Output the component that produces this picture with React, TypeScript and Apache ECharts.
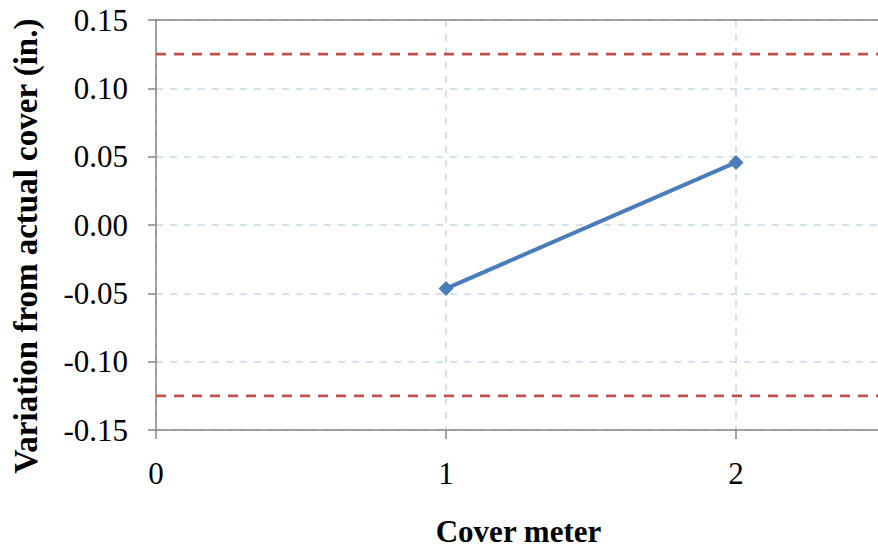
import React, { useEffect, useRef } from "react";
import * as echarts from "echarts";

const meterX = [1, 2];
const variation = [-0.0465, 0.0458];
const toleranceUpper = 0.125;
const toleranceLower = -0.125;
const xTicks = [0, 1, 2];
const yTicks = [-0.15, -0.1, -0.05, 0, 0.05, 0.1, 0.15];
const yTitle = "Variation from actual cover (in.)";
const xTitle = "Cover meter";

const FONT = "'Liberation Serif', 'Times New Roman', serif";
const AXIS_GRAY = "#868686";

export default function App() {
  const ref = useRef<HTMLDivElement>(null);
  useEffect(() => {
    if (!ref.current) return;
    const chart = echarts.init(ref.current, undefined, { renderer: "svg" });
    const option = {
      animation: false,
      backgroundColor: "#ffffff",
      grid: { left: 156, top: 20, width: 727.5, height: 410, containLabel: false },
      graphic: [
        {
          type: "text",
          x: 26,
          y: 246,
          rotation: Math.PI / 2,
          style: {
            text: yTitle,
            fontFamily: FONT,
            fontSize: 33,
            fontWeight: "bold",
            fill: "#000",
            align: "center",
            verticalAlign: "middle",
          },
        },
      ],
      xAxis: [
        {
          type: "value",
          min: 0,
          max: 2.5,
          interval: 1,
          name: xTitle,
          nameLocation: "middle",
          nameGap: 86,
          nameTextStyle: { fontFamily: FONT, fontSize: 31, fontWeight: "bold", color: "#000" },
          axisLine: { show: true, onZero: false, lineStyle: { color: AXIS_GRAY, width: 1.5 } },
          axisTick: { show: true, length: 9, lineStyle: { color: AXIS_GRAY, width: 1.5 } },
          axisLabel: {
            margin: 28,
            fontFamily: FONT,
            fontSize: 31,
            color: "#000",
            formatter: (v: number) => (xTicks.indexOf(v) >= 0 ? String(v) : ""),
          },
          splitLine: {
            show: true,
            lineStyle: { color: "#c9d7ec", type: [7, 7], width: 1.5 },
          },
        },
        {
          type: "value",
          position: "top",
          min: 0,
          max: 2.5,
          interval: 1,
          axisLine: { show: true, onZero: false, lineStyle: { color: AXIS_GRAY, width: 1.5 } },
          axisTick: { show: false },
          axisLabel: { show: false },
          splitLine: { show: false },
        },
      ],
      yAxis: {
        type: "value",
        min: -0.15,
        max: 0.15,
        interval: 0.05,
        axisLine: { show: true, onZero: false, lineStyle: { color: AXIS_GRAY, width: 1.5 } },
        axisTick: { show: true, length: 8, inside: false, lineStyle: { color: AXIS_GRAY, width: 1.5 } },
        axisLabel: {
          margin: 28,
          fontFamily: FONT,
          fontSize: 31,
          color: "#000",
          formatter: (v: number) => {
            const r = Math.round(v * 100) / 100;
            const match = yTicks.find((t) => Math.abs(t - r) < 1e-9);
            return match === undefined ? "" : r.toFixed(2);
          },
        },
        splitLine: {
          show: true,
          lineStyle: { color: "#c9d7ec", type: [7, 7], width: 1.5 },
        },
      },
      series: [
        {
          type: "line",
          data: meterX.map((x, i) => [x, variation[i]]),
          symbol: "diamond",
          symbolSize: 15,
          lineStyle: { color: "#4a7ebb", width: 4 },
          itemStyle: { color: "#4a7ebb" },
          z: 5,
        },
        {
          type: "line",
          data: [
            [0, toleranceUpper],
            [2.5, toleranceUpper],
          ],
          symbol: "none",
          lineStyle: { color: "#c0504d", width: 2.8, type: [10, 8] },
          z: 4,
        },
        {
          type: "line",
          data: [
            [0, toleranceLower],
            [2.5, toleranceLower],
          ],
          symbol: "none",
          lineStyle: { color: "#c0504d", width: 2.8, type: [10, 8] },
          z: 4,
        },
      ],
    };
    chart.setOption(option);
    return () => chart.dispose();
  }, []);
  return (
    <div
      style={{ position: "absolute", left: 0, top: 0, width: 878, height: 552, overflow: "hidden" }}
    >
      <div ref={ref} style={{ width: 884, height: 552 }} />
    </div>
  );
}
